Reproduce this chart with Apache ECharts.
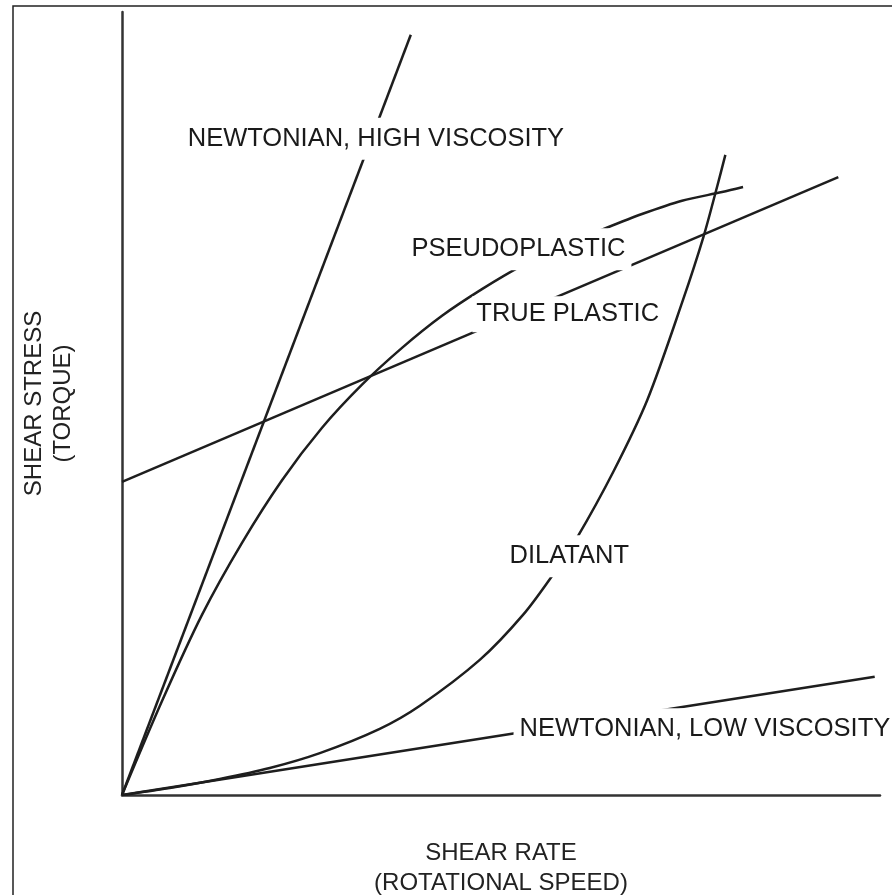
<!DOCTYPE html>
<html>
<head>
<meta charset="utf-8">
<script src="https://cdn.jsdelivr.net/npm/echarts@6/dist/echarts.min.js"></script>
<style>
html,body{margin:0;padding:0;background:#fff;overflow:hidden;}
#chart{width:892px;height:895px;}
</style>
</head>
<body>
<div id="chart"></div>
<script>
// Values (x: shear rate 0-100, y: shear stress 0-100)
const newtonianHigh = [[0, 0], [38.1, 97.1]];
const newtonianLow = [[0, 0], [99.3, 15.1]];
const truePlastic = [[0, 40.0], [94.5, 78.9]];
const pseudoplastic = [
  [0, 0], [5.28, 12.0], [10.55, 23.0], [15.83, 32.2], [21.11, 40.2], [26.39, 46.9],
  [31.66, 52.4], [36.94, 57.1], [42.22, 61.2], [47.49, 64.6], [52.77, 67.6],
  [58.05, 70.1], [63.32, 72.2], [68.6, 74.2], [73.88, 75.9], [79.16, 77.0], [81.93, 77.65]
];
const dilatant = [
  [0, 0], [6.3, 0.9], [12.9, 2.05], [19.5, 3.45], [26.1, 5.35], [34.0, 8.45],
  [39.3, 11.4], [47.2, 17.25], [52.9, 23.0], [56.9, 28.2], [60.0, 32.8],
  [64.8, 41.25], [69.3, 50.45], [74.0, 63.2], [76.7, 71.25], [78.5, 77.65], [79.6, 81.75]
];
const curveNames = ['NEWTONIAN, HIGH VISCOSITY', 'PSEUDOPLASTIC', 'TRUE PLASTIC', 'DILATANT', 'NEWTONIAN, LOW VISCOSITY'];
const labelAnchors = [[33.5, 83.8], [52.3, 69.7], [58.8, 61.4], [59.0, 30.5], [76.9, 8.4]];
const xTitle = 'SHEAR RATE\n(ROTATIONAL SPEED)';
const yTitle = 'SHEAR STRESS\n(TORQUE)';

const chart = echarts.init(document.getElementById('chart'), null, {renderer: 'canvas'});
const lineStyle = {color: '#1e1e1e', width: 2.5};
function lineSeries(name, data, smooth) {
  return {
    name: name, type: 'line', data: data, symbol: 'none',
    smooth: smooth ? 0.3 : false,
    lineStyle: lineStyle, z: 2, silent: true, animation: false
  };
}
const font = "'Liberation Sans', Arial, sans-serif";
chart.setOption({
  animation: false,
  backgroundColor: '#fff',
  grid: {left: 122, right: 12, top: 12, bottom: 100, containLabel: false, outerBoundsMode: 'none'},
  xAxis: {
    type: 'value', min: 0, max: 100,
    axisLine: {show: true, lineStyle: {color: '#333', width: 2.5}},
    axisTick: {show: false}, axisLabel: {show: false}, splitLine: {show: false},
    name: xTitle, nameLocation: 'middle', nameGap: 43,
    nameTextStyle: {fontSize: 24, lineHeight: 30, color: '#222', fontFamily: font}
  },
  yAxis: {
    type: 'value', min: 0, max: 100,
    axisLine: {show: true, lineStyle: {color: '#333', width: 2.5}},
    axisTick: {show: false}, axisLabel: {show: false}, splitLine: {show: false},
    name: yTitle, nameLocation: 'middle', nameGap: 44, nameRotate: 90,
    nameTextStyle: {fontSize: 24, lineHeight: 29, color: '#222', fontFamily: font}
  },
  graphic: [{
    type: 'rect', z: 100, silent: true,
    shape: {x: 13, y: 6, width: 900, height: 910},
    style: {fill: 'none', stroke: '#222', lineWidth: 1.5}
  }],
  series: [
    lineSeries(curveNames[0], newtonianHigh, false),
    lineSeries(curveNames[1], pseudoplastic, true),
    lineSeries(curveNames[2], truePlastic, false),
    lineSeries(curveNames[3], dilatant, true),
    lineSeries(curveNames[4], newtonianLow, false),
    {
      type: 'scatter', z: 10, silent: true, symbolSize: 0,
      itemStyle: {opacity: 1},
      data: labelAnchors.map((p, i) => {
        const item = {value: p, name: curveNames[i]};
        if (i === 2) item.label = {padding: [2, 4, 8, 4]};
        return item;
      }),
      label: {
        show: true, position: 'inside', formatter: '{b}', opacity: 1,
        fontSize: 25.5, fontFamily: font, color: '#1a1a1a',
        backgroundColor: '#ffffff', padding: [8, 6]
      }
    }
  ]
});
</script>
</body>
</html>
